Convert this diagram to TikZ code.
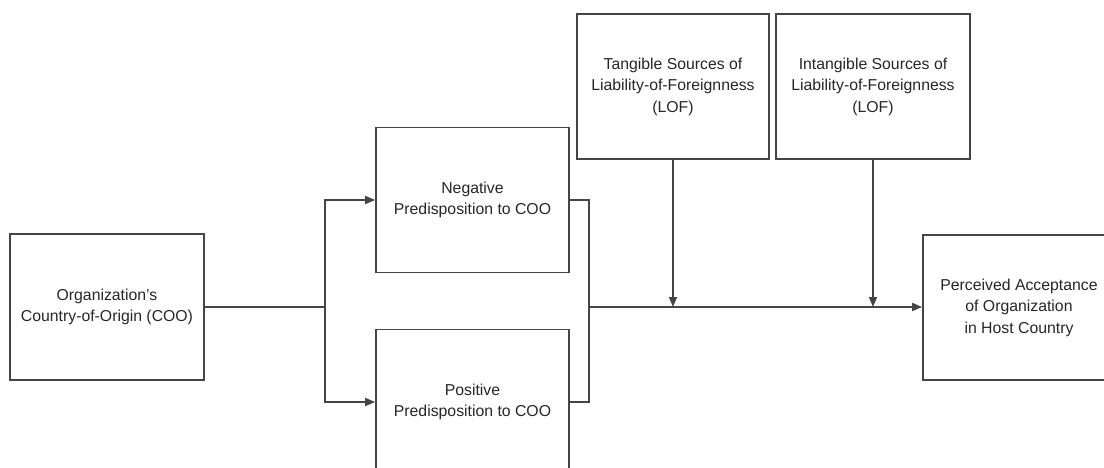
\documentclass[tikz,border=0pt]{standalone}
\usepackage{fontspec}
\setmainfont{Liberation Sans}
\usetikzlibrary{arrows.meta}
\definecolor{ln}{HTML}{454545}
\definecolor{tx}{HTML}{262626}
\begin{document}
\begin{tikzpicture}[x=1pt,y=-1pt,
  box/.style={draw=ln,line width=1.7pt,rectangle,minimum width=#1,minimum height=145pt,
    align=center,inner sep=0pt,text=tx,font=\fontsize{15.8}{21.5}\selectfont},
  box/.default=193pt,
  conn/.style={draw=ln,line width=1.7pt},
  arr/.style={conn,-{Triangle[length=10pt,width=8pt]}}]
\useasboundingbox (0,0) rectangle (1104,468);
\clip (0,0) rectangle (1104,468);
\node[box=194pt,minimum height=146pt] (coo) at (107,307) {Organization's\\Country-of-Origin (COO)};
\node[box] (neg) at (472.5,200) {Negative\\Predisposition to COO};
\node[box] (pos) at (472.5,402) {Positive\\Predisposition to COO};
\node[box=192pt] (tan) at (673,86.5) {Tangible Sources of\\Liability-of-Foreignness\\(LOF)};
\node[box=194pt] (int) at (873,86.5) {Intangible Sources of\\Liability-of-Foreignness\\(LOF)};
\node[box=192pt] (acc) at (1019,307.5) {Perceived Acceptance\\of Organization\\in Host Country};
\coordinate (sp) at (325,307);
\coordinate (jn) at (589,307);
\draw[conn] (coo.east) -- (sp);
\draw[arr] (sp) |- (neg.west);
\draw[arr] (sp) |- (pos.west);
\draw[conn] (neg.east) -| (jn);
\draw[conn] (pos.east) -| (jn);
\draw[arr] (jn) -- (jn -| acc.west);
\draw[arr] (tan.south) -- (tan.south |- jn);
\draw[arr] (int.south) -- (int.south |- jn);
\end{tikzpicture}
\end{document}
